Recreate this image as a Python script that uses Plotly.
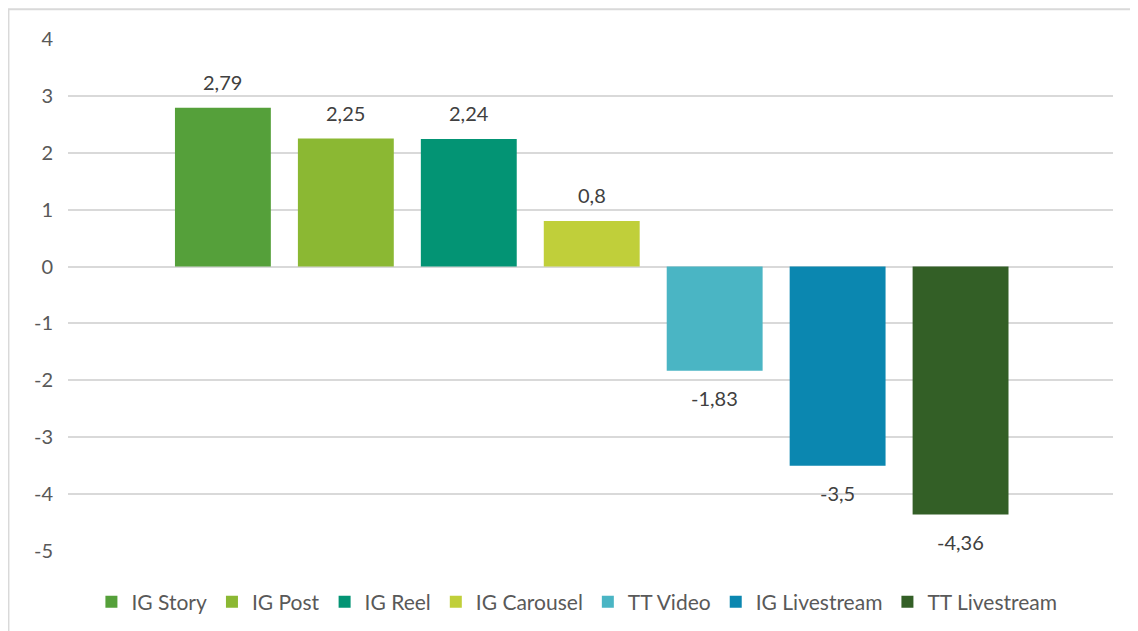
import plotly.graph_objects as go

# data
formats = ["IG Story", "IG Post", "IG Reel", "IG Carousel", "TT Video", "IG Livestream", "TT Livestream"]
scores = [2.79, 2.25, 2.24, 0.8, -1.83, -3.5, -4.36]
colors = ["#55A03A", "#8BB833", "#039474", "#C0CF3A", "#4AB5C4", "#0B87B0", "#335F26"]
y_ticks = [4, 3, 2, 1, 0, -1, -2, -3, -4, -5]

FONT = "Lato, 'Open Sans', sans-serif"

fig = go.Figure()
for name, val, col in zip(formats, scores, colors):
    fig.add_trace(go.Bar(x=[name], y=[val], name=name, marker_color=col,
                         marker_line_width=0, hoverinfo="skip"))
    # excel-style decimal comma labels
    fig.add_annotation(x=name, y=val, text=str(val).replace(".", ","),
                       showarrow=False, yanchor="middle",
                       yshift=26 if val >= 0 else -27,
                       font=dict(family=FONT, size=20, color="#404040"))

# page body has an 8px margin, so the figure is a bit smaller than the window
fig.update_layout(
    width=1130, height=623,
    margin=dict(l=60, r=25, t=31, b=80, autoexpand=False),
    paper_bgcolor="white", plot_bgcolor="white",
    barmode="overlay", bargap=0.22,
    font=dict(family=FONT, size=20, color="#595959"),
    showlegend=True,
    legend=dict(orientation="h", x=0.487, xanchor="center", y=-0.1, yanchor="middle",
                font=dict(family=FONT, size=21, color="#595959"),
                itemclick=False, itemdoubleclick=False, traceorder="normal"),
    shapes=[dict(type="rect", xref="paper", yref="paper",
                 x0=-0.057, x1=1.05, y0=-0.3, y1=1.058,
                 line=dict(color="#D9D9D9", width=2), fillcolor="rgba(0,0,0,0)",
                 layer="below")],
)
fig.update_xaxes(type="category", range=[-1.26, 7.24], showticklabels=False,
                 showgrid=False, zeroline=False, showline=False, ticks="")
fig.update_yaxes(range=[-5, 4], tickvals=y_ticks, ticktext=[str(t) for t in y_ticks],
                 showgrid=True, gridcolor="#D9D9D9", gridwidth=1.5,
                 zeroline=True, zerolinecolor="#D9D9D9", zerolinewidth=1.5,
                 showline=False, ticks="", ticklabelstandoff=14,
                 tickfont=dict(family=FONT, size=20, color="#595959"))

fig.write_html("out.html")
